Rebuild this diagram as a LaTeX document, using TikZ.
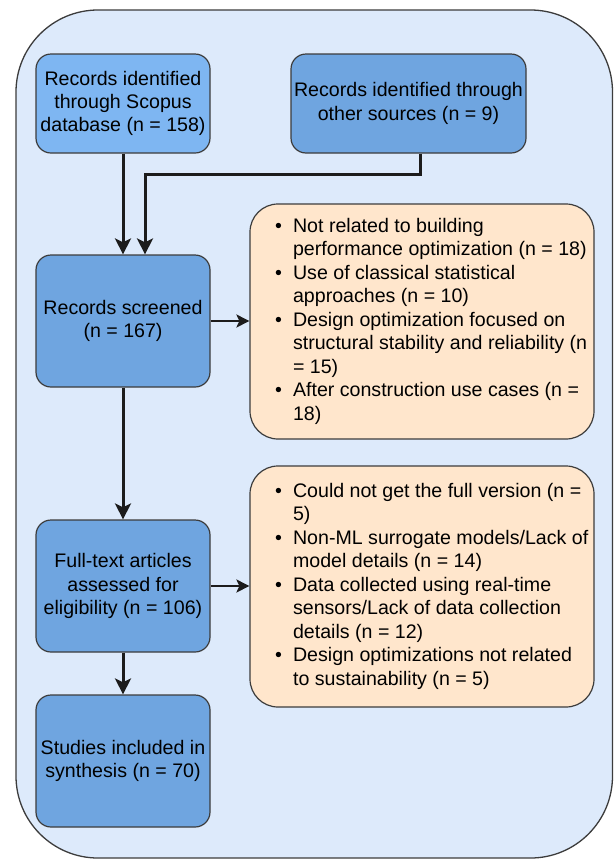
\documentclass[tikz,border=0pt]{standalone}
\usepackage{fontspec}
\setmainfont{Liberation Sans}
\usetikzlibrary{arrows.meta,calc}
\definecolor{outerfill}{HTML}{DDEAFB}
\definecolor{lightblue}{HTML}{7EB6F2}
\definecolor{midblue}{HTML}{6FA5E0}
\definecolor{peach}{HTML}{FFE6CC}
\definecolor{edgegray}{HTML}{3C3C3C}
\definecolor{arrowcol}{HTML}{1C1C1C}
\begin{document}
\begin{tikzpicture}[x=1pt,y=-1pt,
  blk/.style={draw=edgegray, line width=1.2pt, rounded corners=15pt,
    minimum width=174pt, align=center, inner sep=0pt,
    font=\fontsize{19.6}{23.4}\selectfont},
  note/.style={draw=edgegray, fill=peach, line width=1.2pt,
    rounded corners=28pt, minimum width=344pt, inner sep=0pt},
  listtext/.style={anchor=west, inner sep=0pt, align=left,
    font=\fontsize{19.6}{23.5}\selectfont},
  arr/.style={line width=3pt, draw=arrowcol,
    -{Stealth[length=16pt,width=16pt,inset=4pt]}},
  harr/.style={line width=2.2pt, draw=arrowcol,
    -{Stealth[length=13pt,width=13pt,inset=3pt]}}
]
\useasboundingbox (0,0) rectangle (614,860);
\draw[fill=outerfill, draw=edgegray, line width=1.3pt, rounded corners=82pt]
  (16,10) rectangle (612.5,858);

\node[blk, fill=lightblue, minimum height=99pt] (A) at (123,103.5)
  {Records identified\\through Scopus\\database (n = 158)};
\node[blk, fill=midblue, minimum width=235pt, minimum height=99pt] (B) at (408.5,103.5)
  {Records identified through\\other sources (n = 9)};
\node[blk, fill=midblue, minimum height=132pt] (C) at (123,321)
  {Records screened\\(n = 167)};
\node[blk, fill=midblue, minimum height=132pt] (E) at (123,586)
  {Full-text articles\\assessed for\\eligibility (n = 106)};
\node[blk, fill=midblue, minimum height=132pt] (G) at (123,761)
  {Studies included in\\synthesis (n = 70)};

\node[note, minimum height=235pt] (D) at (422,321.5) {};
\node[note, minimum height=241pt] (F) at (422,586.5) {};

\node[listtext] (Dt) at (275,321.5) {%
\begin{tabular}{@{}l@{\hspace{11pt}}l@{}}
\textbullet & Not related to building\\
 & performance optimization (n = 18)\\
\textbullet & Use of classical statistical\\
 & approaches (n = 10)\\
\textbullet & Design optimization focused on\\
 & structural stability and reliability (n\\
 & = 15)\\
\textbullet & After construction use cases (n =\\
 & 18)
\end{tabular}};

\node[listtext] (Ft) at (275,586.5) {%
\begin{tabular}{@{}l@{\hspace{11pt}}l@{}}
\textbullet & Could not get the full version (n =\\
 & 5)\\
\textbullet & Non-ML surrogate models/Lack of\\
 & model details (n = 14)\\
\textbullet & Data collected using real-time\\
 & sensors/Lack of data collection\\
 & details (n = 12)\\
\textbullet & Design optimizations not related\\
 & to sustainability (n = 5)
\end{tabular}};

\coordinate (bend) at ($([xshift=11.5pt]B.south)+(0,21)$);
\draw[arr] (A) -- (C);
\draw[arr] ([xshift=11.5pt]B.south) -- (bend) -| ([xshift=22pt]C.north);
\draw[harr] (C.east) -- (C.east -| D.west);
\draw[arr] (C) -- (E);
\draw[harr] (E.east) -- (E.east -| F.west);
\draw[arr] (E) -- (G);
\end{tikzpicture}
\end{document}
